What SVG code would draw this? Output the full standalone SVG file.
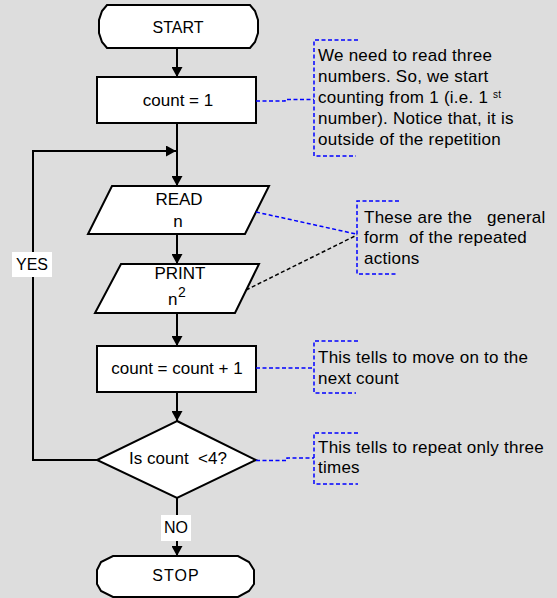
<svg xmlns="http://www.w3.org/2000/svg" width="557" height="598" viewBox="0 0 557 598">
  <defs>
    <marker id="arrow" markerUnits="userSpaceOnUse" markerWidth="11" markerHeight="11" refX="10" refY="5.5" orient="auto">
      <path d="M0,0 L10,5.5 L0,11 Z" fill="#000"/>
    </marker>
    <style>
      .shape { fill: #fff; stroke: #000; stroke-width: 2; }
      .flow { fill: none; stroke: #000; stroke-width: 2; }
      .note-line { fill: none; stroke: #0000ff; stroke-width: 1.5; stroke-dasharray: 4 2.5; }
      .note-line-dark { fill: none; stroke: #000; stroke-width: 1.5; stroke-dasharray: 4 2.5; }
      text { font-family: "Liberation Sans", Arial, sans-serif; fill: #000; }
      .node-text { font-size: 16px; text-anchor: middle; }
      .node-text-lg { font-size: 17px; text-anchor: middle; }
      .note-text { font-size: 17px; letter-spacing: 0.25px; }
      .label-bg { fill: #fff; }
    </style>
  </defs>

  <rect x="0" y="0" width="557" height="598" fill="#dddddd"/>

  <!-- flow connectors -->
  <g id="connectors">
    <line class="flow" x1="177" y1="48" x2="177" y2="77" marker-end="url(#arrow)"/>
    <line class="flow" x1="177" y1="123" x2="177" y2="186" marker-end="url(#arrow)"/>
    <polyline class="flow" points="97,460 33,460 33,151 176,151" marker-end="url(#arrow)"/>
    <line class="flow" x1="177" y1="234" x2="177" y2="264" marker-end="url(#arrow)"/>
    <line class="flow" x1="177" y1="313" x2="177" y2="346" marker-end="url(#arrow)"/>
    <line class="flow" x1="177" y1="392" x2="177" y2="421" marker-end="url(#arrow)"/>
    <line class="flow" x1="177" y1="498" x2="177" y2="556" marker-end="url(#arrow)"/>
    <!-- branch labels -->
    <rect class="label-bg" x="12" y="252" width="40" height="25"/>
    <text class="node-text" x="32" y="270">YES</text>
    <rect class="label-bg" x="161" y="515" width="30" height="26"/>
    <text class="node-text" x="176" y="533">NO</text>
  </g>

  <g id="start">
    <polygon class="shape" points="107,5 250,5 255,11 258,20 258,33 255,42 250,48 107,48 102,42 99,33 99,20 102,11"/>
    <text class="node-text" x="178" y="32.5">START</text>
  </g>

  <g id="init">
    <rect class="shape" x="97" y="77" width="159" height="46"/>
    <text class="node-text-lg" x="178" y="106">count = 1</text>
  </g>

  <g id="read">
    <polygon class="shape" points="112,186 269,186 245,234 88,234"/>
    <text class="node-text-lg" x="179" y="205">READ</text>
    <text class="node-text-lg" x="178" y="227">n</text>
  </g>

  <g id="print">
    <polygon class="shape" points="121,264 259,264 235,313 95,313"/>
    <text class="node-text-lg" x="180" y="279">PRINT</text>
    <text x="168" y="305" font-size="17">n<tspan x="178" dy="-8" font-size="14">2</tspan></text>
  </g>

  <g id="increment">
    <rect class="shape" x="97" y="346" width="159" height="46"/>
    <text class="node-text-lg" x="177" y="374">count = count + 1</text>
  </g>

  <g id="decision">
    <polygon class="shape" points="177,421 256,460 177,498 97,460"/>
    <text class="node-text-lg" x="178" y="464" xml:space="preserve">Is count  &lt;4?</text>
  </g>

  <g id="stop">
    <polygon class="shape" points="113,556 238,556 249,562 254,570 254,584 249,591 238,597 113,597 101,591 97,584 97,570 101,562"/>
    <text class="node-text" x="176" y="581" letter-spacing="1">STOP</text>
  </g>

  <!-- annotations -->
  <g id="note-init">
    <polyline class="note-line" points="256,101 285,101 285,99.5 314,99.5"/>
    <path class="note-line" d="M358,40 H314 V156 H356"/>
    <text class="note-text" x="318" y="61">We need to read three</text>
    <text class="note-text" x="318" y="82">numbers. So, we start</text>
    <text class="note-text" x="318" y="103">counting from 1 (i.e. 1 <tspan x="493" dy="-5.5" font-size="10">st</tspan></text>
    <text class="note-text" x="318" y="124">number). Notice that, it is</text>
    <text class="note-text" x="318" y="145">outside of the repetition</text>
  </g>

  <g id="note-loop">
    <line class="note-line" x1="256" y1="212" x2="356" y2="234"/>
    <line class="note-line-dark" x1="246" y1="290" x2="357" y2="235"/>
    <path class="note-line" d="M399,201 H357 V274 H397"/>
    <text class="note-text" x="364" y="222.5" xml:space="preserve">These are the   general</text>
    <text class="note-text" x="364" y="243" xml:space="preserve">form  of the repeated</text>
    <text class="note-text" x="364" y="263.5">actions</text>
  </g>

  <g id="note-increment">
    <line class="note-line" x1="256" y1="368" x2="314" y2="368"/>
    <path class="note-line" d="M358,341 H314 V393 H356"/>
    <text class="note-text" x="318" y="363">This tells to move on to the</text>
    <text class="note-text" x="318" y="384">next count</text>
  </g>

  <g id="note-decision">
    <polyline class="note-line" points="256,460.5 287,460.5 287,458 314,458"/>
    <path class="note-line" d="M358,433 H314 V484 H358"/>
    <text class="note-text" x="318" y="453">This tells to repeat only three</text>
    <text class="note-text" x="318" y="473">times</text>
  </g>
</svg>
